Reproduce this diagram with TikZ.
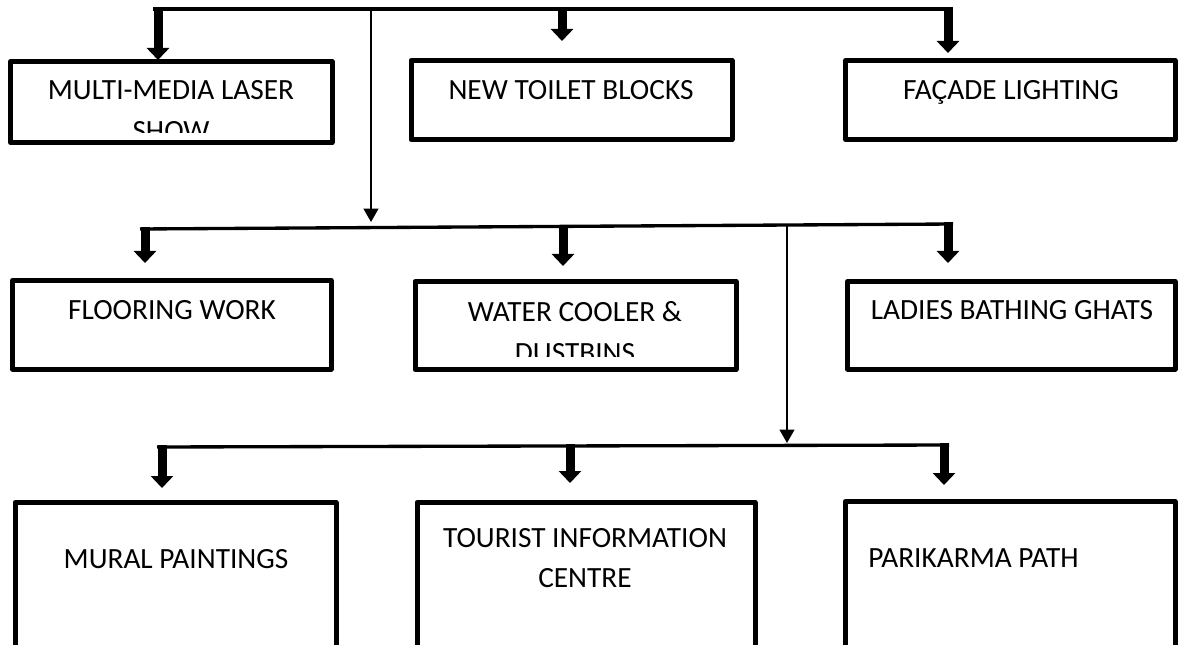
\documentclass[tikz,border=0pt]{standalone}
\usepackage{fontspec}
\setmainfont{Carlito}
\usetikzlibrary{arrows.meta,fit}
\begin{document}
\begin{tikzpicture}[x=0.75pt,y=-0.75pt,
  box/.style={draw, line width=3.75pt, line join=round, rectangle, inner sep=0pt},
  lbl/.style={anchor=base, inner sep=0pt, font=\fontsize{22}{30}\selectfont},
  bus/.style={line width=2.5pt},
  bigarrow/.style={line width=6.75pt, -{Triangle[width=16.5pt,length=9pt]}},
  thinarrow/.style={line width=1.5pt, -{Triangle[width=11pt,length=10pt]}}]
\clip (0,0) rectangle (1178,645);
\fill[white] (0,0) rectangle (1178,645);

% boxes
\node[box, fit={(10.5,61.5) (332,142.5)}] (b1) {};
\node[box, fit={(411,60.5) (732,139.5)}] (b2) {};
\node[box, fit={(845.5,60.5) (1175,139.5)}] (b3) {};
\node[box, fit={(12.5,280.5) (331,369)}] (b4) {};
\node[box, fit={(415,281.5) (736,369.5)}] (b5) {};
\node[box, fit={(847.5,281.5) (1175,369)}] (b6) {};
\node[box, fit={(15,502.5) (336,648)}] (b7) {};
\node[box, fit={(417,502.5) (755,648)}] (b8) {};
\node[box, fit={(845.5,501.5) (1175,648)}] (b9) {};

% labels
\begin{scope}
  \clip (13,64) rectangle (330,133);
  \node[lbl] (l1a) at (171,100) {MULTI-MEDIA LASER};
  \node[lbl] (l1b) at (171,141) {SHOW};
\end{scope}
\node[lbl] (l2) at (571,100) {NEW TOILET BLOCKS};
\node[lbl] (l3) at (1011,100) {FAÇADE LIGHTING};
\node[lbl] (l4) at (172,320) {FLOORING WORK};
\begin{scope}
  \clip (418,284) rectangle (733,356);
  \node[lbl] (l5a) at (575,321) {WATER COOLER \&};
  \node[lbl] (l5b) at (575,362) {DUSTBINS};
\end{scope}
\node[lbl] (l6) at (1012,320) {LADIES BATHING GHATS};
\node[lbl] (l7) at (176,568) {MURAL PAINTINGS};
\node[lbl] (l8a) at (585,547) {TOURIST INFORMATION};
\node[lbl] (l8b) at (585,587) {CENTRE};
\node[lbl, anchor=base west] (l9) at (868,567) {PARIKARMA PATH};

% bus coordinates
\coordinate (busA0) at (153,9);
\coordinate (busA1) at (953,9);
\coordinate (busB0) at (140,229);
\coordinate (busB1) at (953,224);
\coordinate (busC0) at (157,447);
\coordinate (busC1) at (949,445);

% arrow start / tip coordinates
\coordinate (s1) at (158,7);   \coordinate (t1) at (158,60);
\coordinate (s2) at (562,7);   \coordinate (t2) at (562,41);
\coordinate (s3) at (948,7);   \coordinate (t3) at (948,53);
\coordinate (sA) at (371,9);   \coordinate (tA) at (371,222);
\coordinate (s4) at (145,227); \coordinate (t4) at (145,263);
\coordinate (s5) at (563,225); \coordinate (t5) at (563,266);
\coordinate (s6) at (948,222); \coordinate (t6) at (948,263);
\coordinate (sB) at (787,226); \coordinate (tB) at (787,443);
\coordinate (s7) at (162,445); \coordinate (t7) at (162,488);
\coordinate (s8) at (570,444); \coordinate (t8) at (570,483);
\coordinate (s9) at (944,443); \coordinate (t9) at (944,485);

% buses
\draw[bus] (busA0) -- (busA1);
\draw[bus] (busB0) -- (busB1);
\draw[bus] (busC0) -- (busC1);

% arrows
\draw[bigarrow] (s1) -- (t1);
\draw[bigarrow] (s2) -- (t2);
\draw[bigarrow] (s3) -- (t3);
\draw[thinarrow] (sA) -- (tA);
\draw[bigarrow] (s4) -- (t4);
\draw[bigarrow] (s5) -- (t5);
\draw[bigarrow] (s6) -- (t6);
\draw[thinarrow] (sB) -- (tB);
\draw[bigarrow] (s7) -- (t7);
\draw[bigarrow] (s8) -- (t8);
\draw[bigarrow] (s9) -- (t9);
\end{tikzpicture}
\end{document}
